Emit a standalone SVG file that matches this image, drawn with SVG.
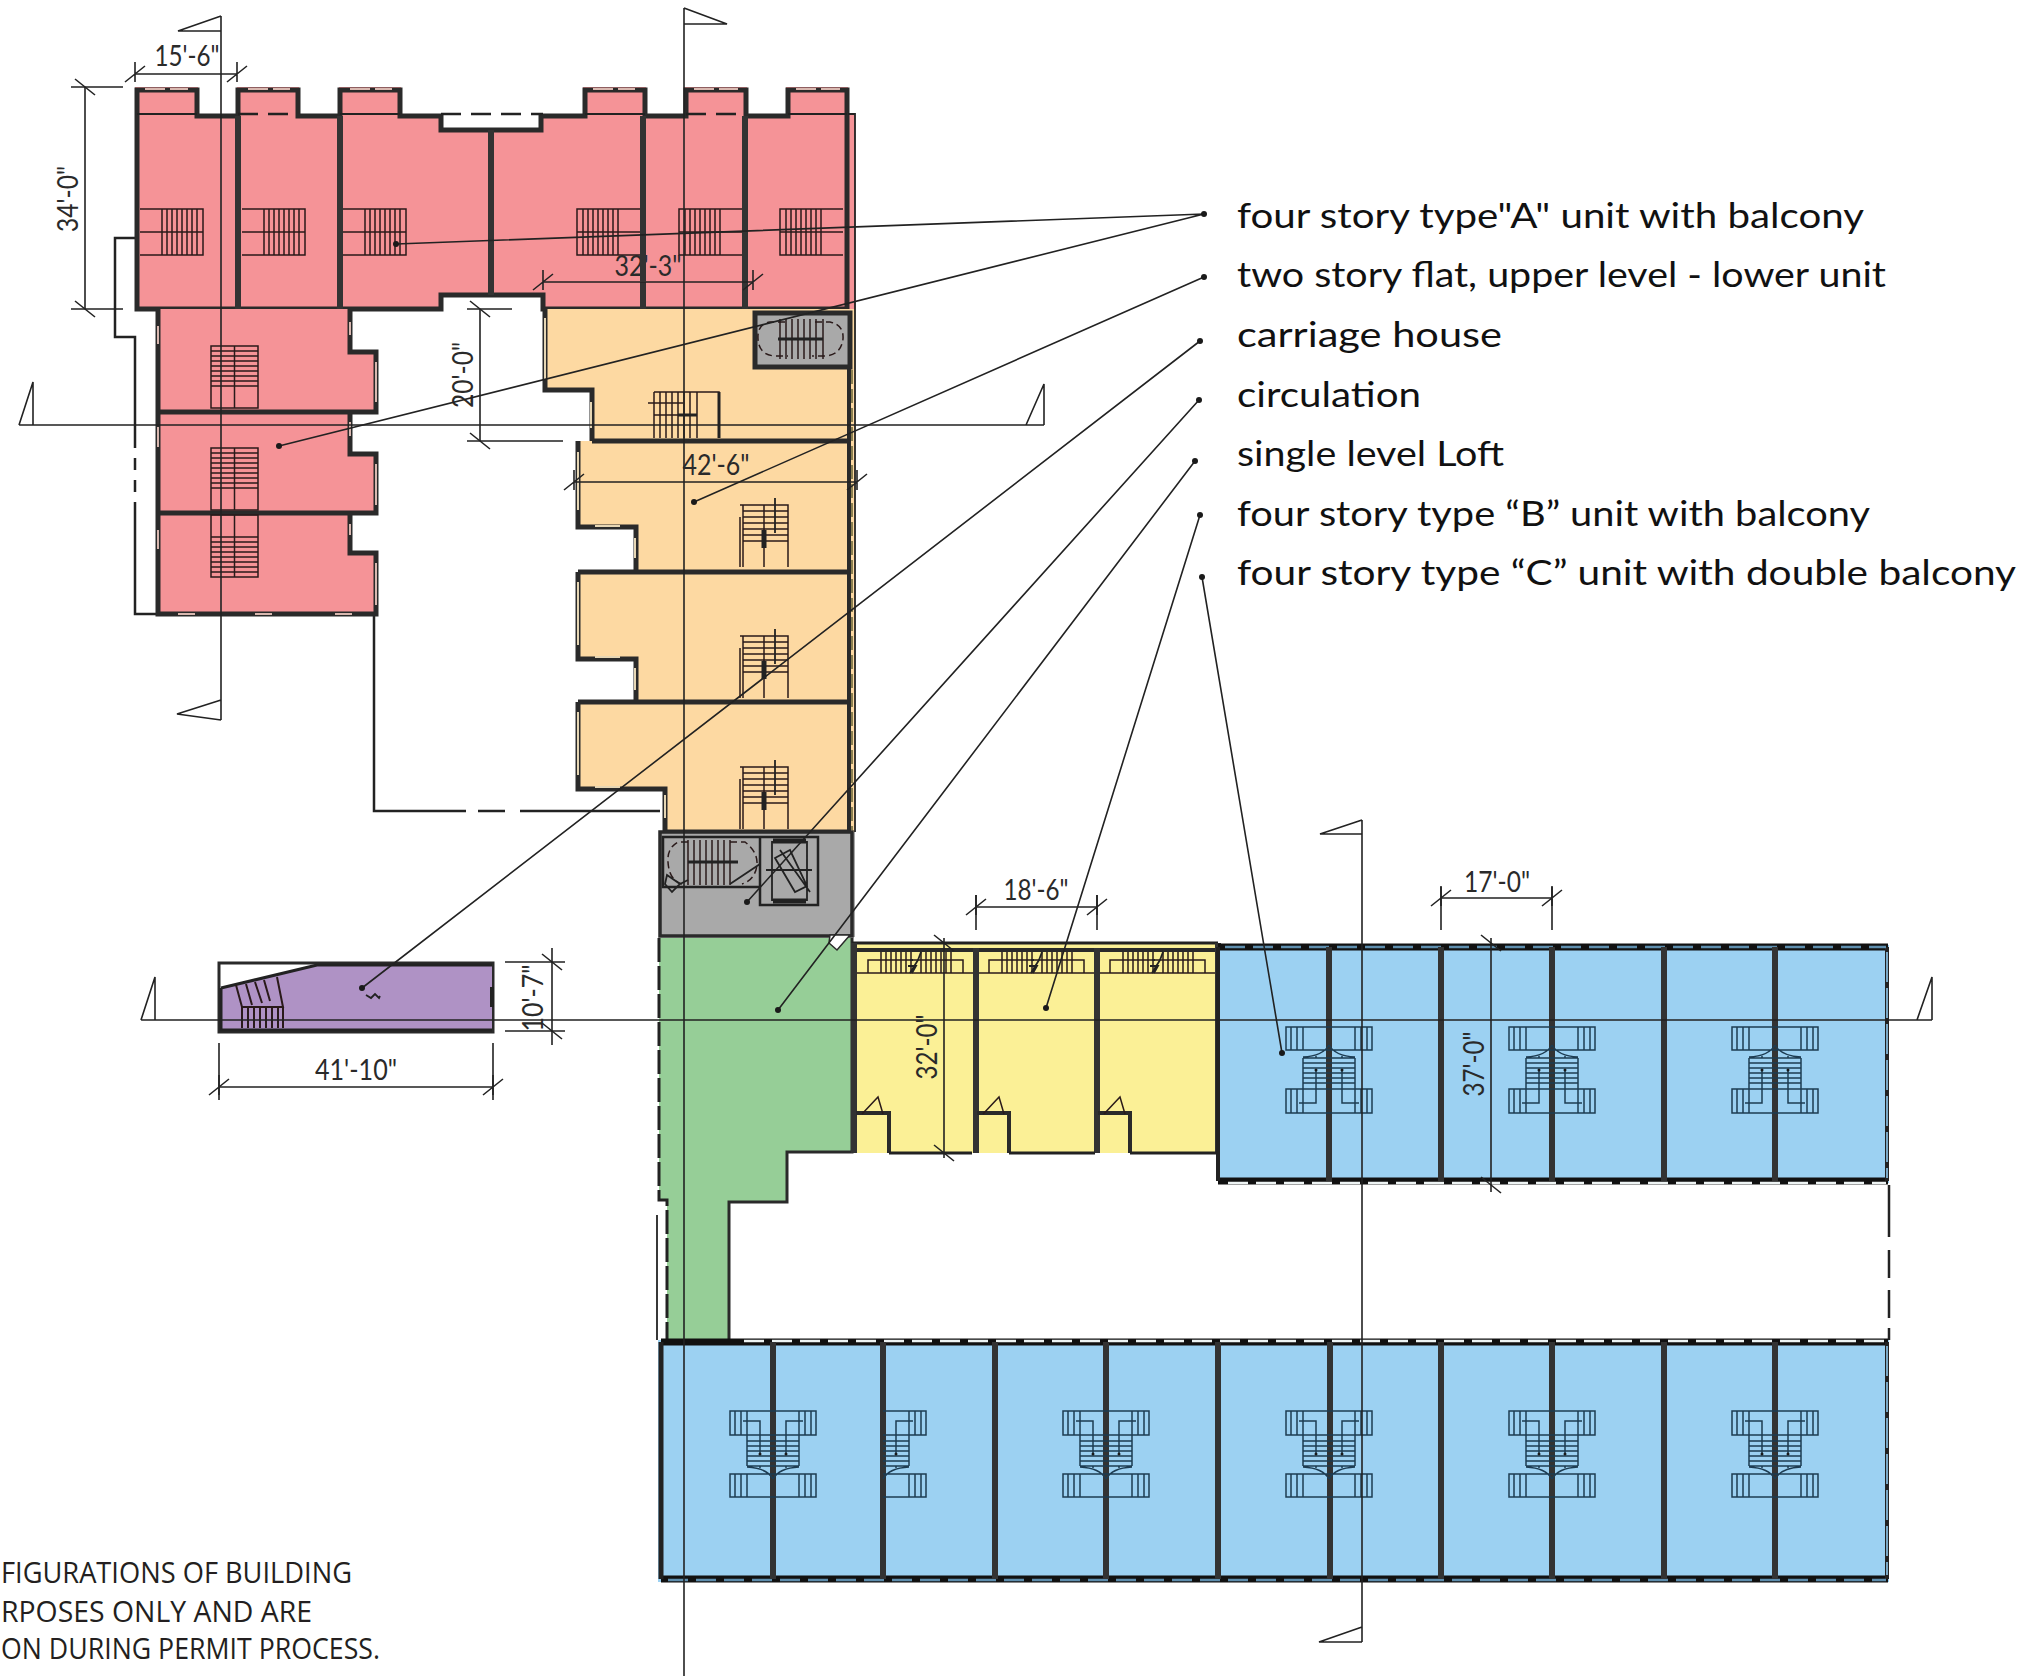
<svg xmlns="http://www.w3.org/2000/svg" width="2028" height="1676" viewBox="0 0 2028 1676">
<style>
.w{fill:none;stroke:#2a2a2a;stroke-width:5;stroke-linejoin:miter}
.p{fill:none;stroke:#333;stroke-width:6}
.t{fill:none;stroke:#222;stroke-width:1.8}
.s{fill:none;stroke:#2a1a1a;stroke-width:1.5}
.b{fill:none;stroke:#1d3c52;stroke-width:1.5}
.l{fill:none;stroke:#222;stroke-width:1.6}
.d{fill:#1a1a1a}
.win{fill:none;stroke:#d9b8b0;stroke-width:2}
.wo{fill:none;stroke:#e6d6b4;stroke-width:2}
.dim{font-family:Lato,"Liberation Sans",sans-serif;font-size:28px;fill:#2a2a2a;text-anchor:middle}
.leg{font-family:Lato,"Liberation Sans",sans-serif;font-size:35px;fill:#111}
.note{font-family:"Open Sans","Liberation Sans",sans-serif;font-size:29px;fill:#231f20}
</style>
<defs>
<path id="rs" class="s" d="M0,0H63V46H0M0,23H63M22,0V46M27,0V46M32,0V46M37,0V46M42,0V46M47,0V46M52,0V46M57,0V46"/>
<path id="os" class="s" d="M0,62V12M0,0H48V62M3,0V62M24,0V62M3,0H48M3,6H48M3,12H48M3,18H48M3,24H48M3,30H48M3,36H48"/>
<path id="ws" class="s" d="M0,0H47V62H0ZM23.500,0V62M0,5H47M0,10H47M0,15H47M0,20H47M0,25H47M0,30H47M0,35H47M0,40H47"/>
<g id="hs">
<path class="b" d="M0,-43H43V-20H0M26,-43V-20M32,-43V-20M38,-43V-20M0,19H43V43H0M26,19V43M32,19V43M38,19V43M26,-12V19M0,-12H26M0,-7H26M0,-2H26M0,3H26M0,8H26M0,13H26M0,-25Q6,-14 26,-13M13,-14V-12M13,0V33H30"/>
<circle class="d" cx="13" cy="0" r="1.500"/>
</g>
<g id="ys">
<path class="s" d="M0,21V8H95V21M13,0V21M18,0V21M23,0V21M28,0V21M33,0V21M38,0V21M43,0V21M53,0V21M58,0V21M63,0V21M68,0V21M73,0V21M78,0V21M83,0V21"/>
<path class="t" d="M42,21L50,8M42,8H45M40,14L48,14L44,21M50,8L53,0"/>
</g>
<path id="tk" class="l" d="M-10,8L10,-8M0,-12V8"/>
<path id="tv" class="l" d="M-10,-8L10,8"/>
<path id="dr" class="s" d="M0,17L16,0L21,17"/>
</defs>

<g id="site-lines">
<path class="t" style="stroke-width:2.500" d="M135,238H115V337H135V448M135,458V470M135,480V492M135,502V614H157M374,616V811H466M478,811H505M520,811H660M1889,1185V1237M1889,1250V1278M1889,1290V1318M1889,1328V1340"/>
</g>

<g id="type-a-units">
<path fill="#f59397" d="M135,87H198V114H237V87H299V114H339V87H401V114H441V130H543V114H583V87H646V114H684V87H747V114H786V87H848V114H855V309H543V294H441V309H137V114H135Z"/>
<path class="w" d="M137,309V90H197V116H238V90H298V116H340V90H400V116H441V130H541V116H585V90H645V116H686V90H746V116H788V90H847V309H543V295H441V309Z"/>
<path class="t" d="M848,114H855V309M137,114H197M340,114H400M585,114H645M788,114H847"/>
<path class="t" style="stroke-width:2.500" stroke-dasharray="20 10" d="M238,114H298M686,114H746M441,114H543"/>
<path class="win" d="M145,89H165M170,89H188M248,89H268M273,89H290M350,89H370M375,89H392M593,89H613M618,89H635M694,89H714M719,89H738M796,89H816M821,89H840"/>
<path class="p" d="M238,116V309M340,116V309M491,130V295M643,116V309M745,116V309"/>
<use href="#rs" x="140" y="209"/><use href="#rs" x="242" y="209"/><use href="#rs" x="343" y="209"/>
<use href="#rs" transform="translate(640,209) scale(-1,1)"/><use href="#rs" transform="translate(742,209) scale(-1,1)"/><use href="#rs" transform="translate(843,209) scale(-1,1)"/>
<path fill="#f59397" d="M157,309H350V352H378V412H350V454H378V513H350V553H378V614H157Z"/>
<path class="w" d="M158,309V614H376V553H350V513H376V454H350V412H376V352H350V309M158,412H376M158,513H376"/>
<path class="win" d="M158,326V344M158,427V447M158,530V549M350,322V335M350,422V436M350,524V535M376,362V402M376,464V505M376,563V605M178,614H195M255,614H272M335,614H352"/>
<use href="#ws" x="211" y="346"/><use href="#ws" x="211" y="448"/><use href="#ws" transform="translate(211,577) scale(1,-1)"/>
</g>

<g id="two-story-flats">
<path fill="#fdd9a2" d="M547,309H855V832H665V787H577V702H635V657H577V572H635V525H577V441H591V390H547Z"/>
<path class="w" d="M545,309V390H592V441M592,441H850M578,441V527H636V572M578,572H850M578,572V659H636V702M578,702H850M578,702V789H665V832H850"/>
<path class="w" style="stroke-width:4" d="M849,367V832"/>
<path class="t" d="M855,309V832"/>
<path class="wo" d="M545,318V380M591,402V428M578,452V510M595,526H620M635,538V558M578,582V645M595,657H620M635,668V690M578,712V775M595,787H620M665,795V818"/>
<path fill="none" stroke="#8a7f50" stroke-width="2" stroke-dasharray="14 5" d="M852,370V830"/>
<path class="s" d="M654,392H719V438M654,392V438M660,392V438M666,392V438M672,392V438M678,392V438M684,392V438M690,392V438M697,392V438M654,415H697M648,403H683"/>
<path class="t" style="stroke-width:3" d="M678,415H697M719,392V438"/>
<use href="#os" x="740" y="505"/><use href="#os" x="740" y="636"/><use href="#os" x="740" y="767"/>
<path class="t" d="M775,498V533M775,629V664M775,760V795"/>
<path class="t" style="stroke-width:5" d="M764,530V548M764,661V679M764,792V810"/>
</g>

<g id="upper-core">
<rect x="755" y="313" width="95" height="54" fill="#a9a9a9" stroke="#2a2a2a" stroke-width="5"/>
<path class="s" d="M780,319V359M786,319V359M792,319V359M798,319V359M804,319V359M810,319V359M816,319V359M823,319V359"/>
<path class="t" style="stroke-width:3" d="M778,339H823"/>
<path class="s" stroke-dasharray="7 4" d="M785,322H770Q757,324 758,339Q759,355 775,356H788M815,322H830Q844,325 843,339Q841,355 825,356H812"/>
</g>

<g id="circulation">
<rect x="660" y="832" width="195" height="105" fill="#a9a9a9"/>
<path class="w" style="stroke-width:3.500" d="M660,832H852V936H660Z"/>
<path class="t" style="stroke-width:2.500" d="M663,837H760V887H663ZM760,837H818V905H760Z"/>
<path class="s" d="M688,840V885M694,840V885M700,840V885M706,840V885M712,840V885M718,840V885M724,840V885M730,840V885"/>
<path class="t" style="stroke-width:3" d="M688,862H738"/>
<path class="s" stroke-dasharray="7 4" d="M688,842H678Q667,848 668,862Q669,880 682,884M730,842H745Q758,852 757,865Q755,880 742,884"/>
<path class="t" d="M667,875L680,884L672,892L665,884ZM680,884L688,880M772,842H807V900H772ZM775,858L790,850L807,886L795,892ZM780,850L810,892M766,870H812M730,884L760,864"/>
<path class="t" style="stroke-width:5" d="M773,841H806M773,901H806"/>
</g>

<g id="single-level-loft">
<path fill="#96ce97" d="M659,938H852V1152H787V1202H729V1339H667V1200H659Z"/>
<path class="w" style="stroke-width:3" d="M852,938V1152H787V1202H729V1339"/>
<path class="t" style="stroke-width:3" stroke-dasharray="24 4" d="M659,938V1200H667V1339"/>
<path class="t" d="M657,1215V1340"/>
<path fill="#fff" stroke="#2a2a2a" stroke-width="1.500" d="M830,935H850L837,950L829,943Z"/>
</g>

<g id="carriage-loft">
<rect x="219" y="963" width="274" height="69" fill="#fff" stroke="#2a2a2a" stroke-width="3"/>
<path fill="#af92c5" d="M221,988L317,965H492V1030H221Z"/>
<path class="t" style="stroke-width:3" d="M221,988L317,965H492M221,988V1030H492"/>
<path class="t" style="stroke-width:4" d="M492,987V1007"/>
<path class="s" style="stroke-width:2" d="M242,1007H283L277,977M236,985L242,1007M246,984L252,1005M255,982L262,1003M264,980L270,1001M242,1007V1028M248,1007V1028M254,1007V1028M260,1007V1028M266,1007V1028M272,1007V1028M278,1007V1028M283,1007V1028"/>
<path class="t" d="M366,995L371,998L375,994L379,998L380,996"/>
</g>

<g id="carriage-house-units">
<rect x="852" y="943" width="366" height="210" fill="#fbf096"/>
<path class="t" style="stroke-width:3" d="M852,943H1218"/>
<path class="w" style="stroke-width:4" d="M852,950H1218"/>
<path class="s" d="M852,973H1218"/>
<path class="p" d="M854,943V1153M976,948V1153M1097,948V1153M1218,943V1153"/>
<path class="w" style="stroke-width:4" d="M856,1113H889V1153M977,1113H1009V1153M1098,1113H1130V1153"/>
<path class="t" style="stroke-width:3" d="M889,1153H972M1009,1153H1095M1130,1153H1216"/>
<use href="#ys" x="868" y="952"/><use href="#ys" x="989" y="952"/><use href="#ys" x="1110" y="952"/>
<use href="#dr" x="862" y="1097"/><use href="#dr" x="983" y="1097"/><use href="#dr" x="1104" y="1097"/>
</g>

<g id="type-b-units">
<rect x="1218" y="945" width="671" height="238" fill="#9cd1f2"/>
<path fill="none" stroke="#111" stroke-width="7" d="M1218,947H1888M1218,1181H1888"/>
<path fill="none" stroke="#222" stroke-width="4" d="M1218,947V1181M1887,947V1181"/>
<path fill="none" stroke="#5e8eae" stroke-width="2.500" stroke-dasharray="20 8" d="M1225,947H1886"/>
<path fill="none" stroke="#eef4f4" stroke-width="2.500" stroke-dasharray="20 8" d="M1228,1183H1886"/>
<path fill="none" stroke="#7aa8c6" stroke-width="2" stroke-dasharray="30 6" d="M1887,952V1178"/>
<path class="p" d="M1329,947V1181M1441,947V1181M1552,947V1181M1664,947V1181M1775,947V1181"/>
<use href="#hs" transform="translate(1329,1070)"/><use href="#hs" transform="translate(1329,1070) scale(-1,1)"/>
<use href="#hs" transform="translate(1552,1070)"/><use href="#hs" transform="translate(1552,1070) scale(-1,1)"/>
<use href="#hs" transform="translate(1775,1070)"/><use href="#hs" transform="translate(1775,1070) scale(-1,1)"/>
</g>

<g id="type-c-units">
<rect x="658" y="1340" width="1231" height="242" fill="#9cd1f2"/>
<path fill="none" stroke="#111" stroke-width="7" d="M661,1342H1888M661,1579H1888"/>
<path fill="none" stroke="#222" stroke-width="5" d="M661,1342V1579"/>
<path fill="none" stroke="#222" stroke-width="4" d="M1887,1342V1579"/>
<path fill="none" stroke="#eef4f4" stroke-width="2.500" stroke-dasharray="20 8" d="M744,1341H1886"/>
<path fill="none" stroke="#5e8eae" stroke-width="2.500" stroke-dasharray="20 8" d="M668,1580H1886"/>
<path fill="none" stroke="#7aa8c6" stroke-width="2" stroke-dasharray="30 6" d="M1887,1346V1575"/>
<path class="p" d="M773,1342V1579M883,1342V1579M995,1342V1579M1106,1342V1579M1218,1342V1579M1330,1342V1579M1441,1342V1579M1552,1342V1579M1664,1342V1579M1775,1342V1579"/>
<use href="#hs" transform="translate(773,1454) scale(1,-1)"/><use href="#hs" transform="translate(773,1454) scale(-1,-1)"/>
<use href="#hs" transform="translate(883,1454) scale(1,-1)"/>
<use href="#hs" transform="translate(1106,1454) scale(1,-1)"/><use href="#hs" transform="translate(1106,1454) scale(-1,-1)"/>
<use href="#hs" transform="translate(1329,1454) scale(1,-1)"/><use href="#hs" transform="translate(1329,1454) scale(-1,-1)"/>
<use href="#hs" transform="translate(1552,1454) scale(1,-1)"/><use href="#hs" transform="translate(1552,1454) scale(-1,-1)"/>
<use href="#hs" transform="translate(1775,1454) scale(1,-1)"/><use href="#hs" transform="translate(1775,1454) scale(-1,-1)"/>
</g>

<g id="section-lines">
<path class="l" d="M221,16V720M221,16L178,31H221M221,720L177,714L221,700M684,8V1676M684,8L727,24H684M19,425H1044M19,425L33,382V425M1044,425V384L1026,425M141,1020H1932M141,1020L155,977V1020M1932,1020V977L1917,1020M1362,820V1642M1362,820L1320,834H1362M1362,1642L1319,1642L1362,1627"/>
</g>

<g id="dimensions">
<path class="l" d="M135,74H237M71,87H123M71,309H123M85,87V309M467,309H512M467,441H563M480,309V441M543,282H753M574,482H857M976,907H1097M976,895V930M1097,895V930M944,938V1158M1441,898H1552M1441,887V930M1552,887V930M1491,938V1192M505,962H565M505,1031H565M552,948V1045M219,1087H493M219,1043V1100M493,1043V1100"/>
<use href="#tk" x="135" y="74"/><use href="#tk" x="237" y="74"/><use href="#tk" x="543" y="282"/><use href="#tk" x="753" y="282"/><use href="#tk" x="574" y="482"/><use href="#tk" x="857" y="482"/><use href="#tk" x="976" y="907"/><use href="#tk" x="1097" y="907"/><use href="#tk" x="1441" y="898"/><use href="#tk" x="1552" y="898"/><use href="#tk" x="219" y="1087"/><use href="#tk" x="493" y="1087"/>
<use href="#tv" x="85" y="87"/><use href="#tv" x="85" y="309"/><use href="#tv" x="480" y="309"/><use href="#tv" x="480" y="441"/><use href="#tv" x="944" y="943"/><use href="#tv" x="944" y="1153"/><use href="#tv" x="1491" y="943"/><use href="#tv" x="1491" y="1185"/><use href="#tv" x="552" y="962"/><use href="#tv" x="552" y="1031"/>
<text class="dim" x="187" y="66" textLength="65" lengthAdjust="spacingAndGlyphs">15'-6"</text>
<text class="dim" transform="translate(78,199) rotate(-90)" textLength="66" lengthAdjust="spacingAndGlyphs">34'-0"</text>
<text class="dim" transform="translate(473,375) rotate(-90)" textLength="66" lengthAdjust="spacingAndGlyphs">20'-0"</text>
<text class="dim" x="648" y="276" textLength="67" lengthAdjust="spacingAndGlyphs">32'-3"</text>
<path class="p" d="M643,250V282"/>
<text class="dim" x="716" y="475" textLength="67" lengthAdjust="spacingAndGlyphs">42'-6"</text>
<text class="dim" x="1036" y="900" textLength="65" lengthAdjust="spacingAndGlyphs">18'-6"</text>
<text class="dim" transform="translate(937,1047) rotate(-90)" textLength="65" lengthAdjust="spacingAndGlyphs">32'-0"</text>
<text class="dim" x="1497" y="892" textLength="66" lengthAdjust="spacingAndGlyphs">17'-0"</text>
<text class="dim" transform="translate(1484,1064) rotate(-90)" textLength="65" lengthAdjust="spacingAndGlyphs">37'-0"</text>
<text class="dim" transform="translate(543,998) rotate(-90)" textLength="67" lengthAdjust="spacingAndGlyphs">10'-7"</text>
<text class="dim" x="356" y="1080" textLength="82" lengthAdjust="spacingAndGlyphs">41'-10"</text>
</g>

<g id="connectors">
<path class="l" d="M1204,214L396,244M1204,214L279,446M1204,277L694,502M1200,341L362,988M1199,400L747,902M1195,461L778,1010M1200,515L1046,1008M1202,577L1282,1053"/>
<circle class="d" cx="1204" cy="214" r="3"/><circle class="d" cx="396" cy="244" r="3"/><circle class="d" cx="279" cy="446" r="3"/>
<circle class="d" cx="1204" cy="277" r="3"/><circle class="d" cx="694" cy="502" r="3"/>
<circle class="d" cx="1200" cy="341" r="3"/><circle class="d" cx="362" cy="988" r="3"/>
<circle class="d" cx="1199" cy="400" r="3"/><circle class="d" cx="747" cy="902" r="3"/>
<circle class="d" cx="1195" cy="461" r="3"/><circle class="d" cx="778" cy="1010" r="3"/>
<circle class="d" cx="1200" cy="515" r="3"/><circle class="d" cx="1046" cy="1008" r="3"/>
<circle class="d" cx="1202" cy="577" r="3"/><circle class="d" cx="1282" cy="1053" r="3"/>
</g>

<g id="legend">
<text class="leg" x="1237" y="228" textLength="627" lengthAdjust="spacingAndGlyphs">four story type"A" unit with balcony</text>
<text class="leg" x="1237" y="287" textLength="649" lengthAdjust="spacingAndGlyphs">two story flat, upper level - lower unit</text>
<text class="leg" x="1237" y="347" textLength="265" lengthAdjust="spacingAndGlyphs">carriage house</text>
<text class="leg" x="1237" y="407" textLength="184" lengthAdjust="spacingAndGlyphs">circulation</text>
<text class="leg" x="1237" y="466" textLength="267" lengthAdjust="spacingAndGlyphs">single level Loft</text>
<text class="leg" x="1237" y="526" textLength="633" lengthAdjust="spacingAndGlyphs">four story type “B” unit with balcony</text>
<text class="leg" x="1237" y="585" textLength="779" lengthAdjust="spacingAndGlyphs">four story type “C” unit with double balcony</text>
</g>

<g id="note">
<text class="note" x="1" y="1583" textLength="351" lengthAdjust="spacingAndGlyphs">FIGURATIONS OF BUILDING</text>
<text class="note" x="1" y="1622" textLength="311" lengthAdjust="spacingAndGlyphs">RPOSES ONLY AND ARE</text>
<text class="note" x="1" y="1659" textLength="379" lengthAdjust="spacingAndGlyphs">ON DURING PERMIT PROCESS.</text>
</g>
</svg>
